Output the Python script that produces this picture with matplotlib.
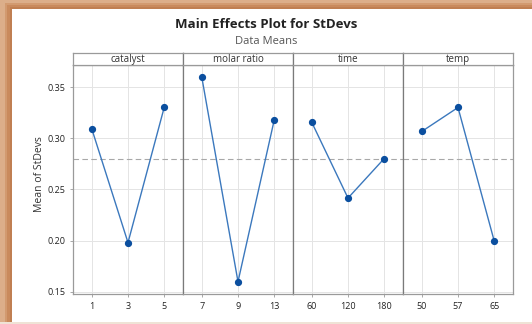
import matplotlib.pyplot as plt
from matplotlib.patches import Rectangle

factors = ['catalyst', 'molar ratio', 'time', 'temp']
levels = [['1', '3', '5'], ['7', '9', '13'], ['60', '120', '180'], ['50', '57', '65']]
catalyst = [0.309, 0.198, 0.330]
molar_ratio = [0.3595, 0.1598, 0.3176]
time = [0.3154, 0.2415, 0.2801]
temp = [0.3066, 0.330, 0.1997]
grand_mean = 0.2793
yticks = [0.15, 0.20, 0.25, 0.30, 0.35]

series = [catalyst, molar_ratio, time, temp]

plt.rcParams['font.family'] = 'Open Sans'
W, H = 532, 324
fig = plt.figure(figsize=(W / 100, H / 100), dpi=100)
fig.patch.set_facecolor('white')

# picture frame decoration
for i, c in enumerate(['#c07f52', '#c98a5d', '#d29a70', '#dcae8a']):
    fig.add_artist(Rectangle((0, 1 - (9 - i * 2) / H), 1, (9 - i * 2) / H,
                             transform=fig.transFigure, color=c, lw=0, zorder=0))
    fig.add_artist(Rectangle((0, 0), (12 - i * 2.5) / W, 1,
                             transform=fig.transFigure, color=c, lw=0, zorder=0))
fig.add_artist(Rectangle((0, 0), 1, 2.5 / H, transform=fig.transFigure,
                         color='#efe3d6', lw=0, zorder=0))

x0, pw = 73, 110
top, bot, stop = 65, 294, 53
frame = '#9a9a9a'
for k, (name, vals) in enumerate(zip(factors, series)):
    ax = fig.add_axes([(x0 + k * pw) / W, (H - bot) / H, pw / W, (bot - top) / H])
    ax.set_xlim(-0.52, 2.52)
    ax.set_ylim(0.1478, 0.3715)
    ax.set_xticks(range(3))
    ax.set_xticklabels(levels[k])
    ax.set_yticks(yticks)
    ax.grid(True, color='#e4e4e4', lw=0.7)
    ax.set_axisbelow(True)
    ax.axhline(grand_mean, color='#a8a8a8', lw=0.8, ls=(0, (5, 3)))
    ax.plot(range(3), vals, color='#3b78bd', lw=1.0, marker='o', ms=4.2,
            mfc='#0b4f9f', mec='#0b4f9f', zorder=3)
    for s in ax.spines.values():
        s.set_color(frame)
        s.set_linewidth(0.9)
    if k > 0:
        ax.spines['left'].set_color('#7a7a7a')
        ax.tick_params(axis='y', left=False, labelleft=False)
    else:
        ax.set_yticklabels(['%.2f' % v for v in yticks])
        ax.set_ylabel('Mean of StDevs', fontsize=7.5, color='#333333')
        ax.yaxis.set_label_coords(-0.25, 0.525)
    ax.tick_params(labelsize=6.5, length=2.5, width=0.6, color=frame,
                   labelcolor='#222222', pad=3)
    # strip
    sx = fig.add_axes([(x0 + k * pw) / W, (H - top) / H, pw / W, (top - stop) / H])
    sx.set_xticks([])
    sx.set_yticks([])
    for s in sx.spines.values():
        s.set_color(frame)
        s.set_linewidth(0.9)
    if k > 0:
        sx.spines['left'].set_color('#7a7a7a')
    sx.text(0.5, 0.42, name, ha='center', va='center', fontsize=7,
            color='#333333', transform=sx.transAxes)

fig.text(0.5, 1 - 25 / H, 'Main Effects Plot for StDevs', ha='center', va='center',
         fontsize=9.5, fontweight='bold', color='#222222')
fig.text(0.5, 1 - 41 / H, 'Data Means', ha='center', va='center',
         fontsize=8, color='#555555')

fig.savefig('out.png', dpi=100)
